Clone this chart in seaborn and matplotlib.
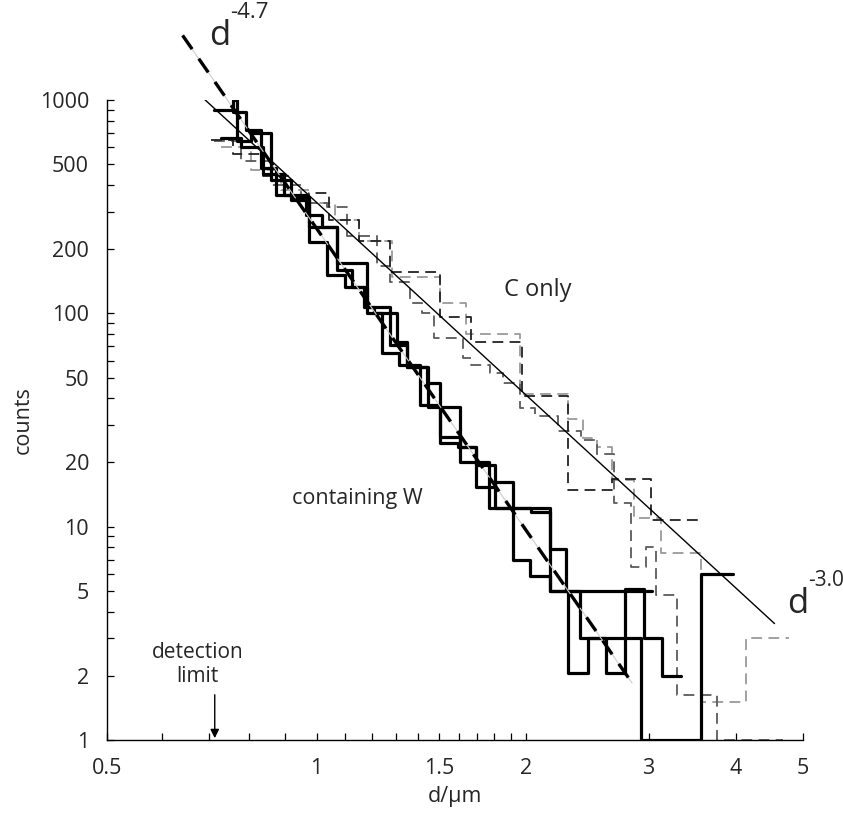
import numpy as np
import pandas as pd
import matplotlib
matplotlib.use("Agg")
import matplotlib.pyplot as plt
from matplotlib.ticker import FixedLocator, NullFormatter
import seaborn as sns

# ---------------- data ----------------
# solid step histograms ("containing W"): bin edges (um) and counts
w1_edges = [0.758, 0.792, 0.833, 0.875, 0.920, 0.974, 1.034, 1.098, 1.181, 1.242, 1.314, 1.409,
            1.502, 1.594, 1.693, 1.804, 1.915, 2.033, 2.166, 2.301, 2.451, 2.602, 2.773, 2.953,
            3.136, 3.342]
w1_counts = [880, 720, 480, 360, 340, 216, 151, 133, 100, 65, 57, 37, 24.7, 23.6, 15.4, 16.2,
             12.2, 11.7, 5.0, 2.06, 3.0, 2.06, 5.1, 3.0, 2.0]

w2_edges = [0.712, 0.758, 0.769, 0.805, 0.861, 0.920, 0.974, 1.069, 1.181, 1.275, 1.349, 1.443,
            1.502, 1.605, 1.768, 1.960, 2.166, 2.285, 2.394, 2.924, 3.571, 3.960]
w2_counts = [900, 1000, 640, 700, 420, 350, 254, 172, 107, 71, 56, 47, 26.3, 20, 12.2, 12.2,
             7.9, 5.0, 3.0, 1.0, 6.0]

w3_edges = [0.729, 0.779, 0.838, 0.899, 0.967, 1.017, 1.069, 1.124, 1.170, 1.209, 1.306, 1.349,
            1.448, 1.502, 1.605, 1.693, 1.804, 1.915, 2.027, 2.166, 3.033]
w3_counts = [660, 600, 450, 360, 290, 254, 159, 133, 107, 100, 73, 56, 36.5, 36.5, 23.6, 19.5,
             12.2, 7.0, 5.9, 5.0]

# dashed step histograms ("C only")
c1_edges = [0.705, 0.758, 0.838, 0.920, 0.974, 1.041, 1.150, 1.275, 1.502, 1.665, 1.974, 2.301,
            2.655, 3.023, 3.571]
c1_counts = [650, 560, 440, 340, 367, 274, 219, 157, 96, 73, 41, 14.8, 16.7, 10.7]

c2_edges = [0.712, 0.779, 0.861, 0.951, 1.034, 1.105, 1.221, 1.275, 1.363, 1.419, 1.477, 1.621,
            1.665, 1.774, 1.852, 1.960, 2.061, 2.225, 2.402, 2.525, 2.673, 2.829, 2.973, 3.073,
            3.297, 3.767, 4.013, 4.677]
c2_counts = [640, 520, 400, 330, 315, 230, 166, 140, 112, 100, 77, 62, 57, 52.5, 47, 36, 33, 28,
             25.5, 22, 12.9, 6.5, 8.0, 4.8, 1.62, 1.0, 1.0]

c3_edges = [0.729, 0.805, 0.890, 0.974, 1.062, 1.150, 1.284, 1.502, 1.637, 1.960, 2.301, 2.418,
            2.525, 2.655, 2.857, 3.125, 3.571, 4.135, 4.772]
c3_counts = [600, 470, 380, 330, 274, 219, 148, 112, 80, 42, 32, 26, 23.6, 16.6, 11, 7.5, 1.5, 3.0]

# power-law fits: counts = A * d**k
fit_w = dict(A=250.0, k=-4.7, d0=0.642, d1=2.84)
fit_c = dict(A=331.0, k=-3.0, d0=0.69, d1=4.55)

x_major = [0.5, 1, 1.5, 2, 3, 4, 5]
x_minor = [0.6, 0.7, 0.8, 0.9, 1.1, 1.2, 1.3, 1.4, 1.6, 1.7, 1.8, 1.9]
y_major = [1, 2, 5, 10, 20, 50, 100, 200, 500, 1000]
detection_limit = 0.714

# ---------------- style ----------------
sns.set_theme(style="ticks")
plt.rcParams['font.family'] = ['Open Sans', 'DejaVu Sans']

fig = plt.figure(figsize=(8.43, 8.16), dpi=100)
ax = fig.add_axes([0.127, 0.0931, 0.8256, 0.7844])
ax.set_xscale('log')
ax.set_yscale('log')


def step_df(edges, counts):
    return pd.DataFrame({'d': edges, 'n': list(counts) + [counts[-1]]})


dashed_specs = [(c3_edges, c3_counts, '#9a9a9a'),
                (c2_edges, c2_counts, '#5a5a5a'),
                (c1_edges, c1_counts, '#222222')]
for e, c, col in dashed_specs:
    sns.lineplot(data=step_df(e, c), x='d', y='n', ax=ax, estimator=None, sort=False,
                 drawstyle='steps-post', color=col, linewidth=1.3, linestyle=(0, (6, 3.5)))

for e, c in [(w3_edges, w3_counts), (w2_edges, w2_counts), (w1_edges, w1_counts)]:
    sns.lineplot(data=step_df(e, c), x='d', y='n', ax=ax, estimator=None, sort=False,
                 drawstyle='steps-post', color='black', linewidth=2.3)

# fits
dd = np.geomspace(fit_c['d0'], fit_c['d1'], 50)
sns.lineplot(x=dd, y=fit_c['A'] * dd ** fit_c['k'], ax=ax, color='black', linewidth=1.0,
             estimator=None, sort=False)
dw = np.geomspace(fit_w['d0'], fit_w['d1'], 50)
ax.plot(dw, fit_w['A'] * dw ** fit_w['k'], color='#cccccc', linewidth=0.8, clip_on=False)
ax.plot(dw, fit_w['A'] * dw ** fit_w['k'], color='black', linewidth=2.4,
        linestyle=(0, (5, 3.5)), clip_on=False)

# axes
ax.set_xlim(0.5, 5.0)
ax.set_ylim(1, 1000)
sns.despine(ax=ax)
ax.xaxis.set_major_locator(FixedLocator(x_major))
ax.xaxis.set_minor_locator(FixedLocator(x_minor))
ax.set_xticklabels([str(v) for v in x_major])
ax.xaxis.set_minor_formatter(NullFormatter())
ax.yaxis.set_major_locator(FixedLocator(y_major))
ax.set_yticklabels([str(v) for v in y_major])
ax.yaxis.set_minor_locator(FixedLocator([m * 10 ** p for p in range(0, 3) for m in (3, 4, 6, 7, 8, 9)]))
ax.yaxis.set_minor_formatter(NullFormatter())
ax.tick_params(which='both', direction='in', length=5, width=0.9, color='black')
ax.tick_params(which='major', labelsize=15.5, pad=13)
for sp in ('left', 'bottom'):
    ax.spines[sp].set_linewidth(1.0)
    ax.spines[sp].set_color('black')
ax.set_xlabel('d/\u03bcm', fontsize=15.5, labelpad=5)
ax.set_ylabel('counts', fontsize=15.5, labelpad=4)

# annotations
ax.text(2.08, 128, 'C only', fontsize=17, ha='center', va='center')
ax.text(1.143, 13.6, 'containing W', fontsize=15.5, ha='center', va='center')
ax.text(0.726, 1995, 'd', fontsize=25, ha='center', va='center', clip_on=False)
ax.text(0.751, 2560, '-4.7', fontsize=16, ha='left', va='center', clip_on=False)
ax.text(4.92, 4.34, 'd', fontsize=25, ha='center', va='center', clip_on=False)
ax.text(5.08, 5.6, '-3.0', fontsize=15, ha='left', va='center', clip_on=False)
ax.text(0.675, 2.25, 'detection\nlimit', fontsize=15, ha='center', va='center',
        linespacing=1.2)
ax.annotate('', xy=(detection_limit, 1.02), xytext=(detection_limit, 1.63),
            arrowprops=dict(arrowstyle='-|>', color='black', lw=1.0, mutation_scale=13,
                            shrinkA=0, shrinkB=0))

fig.savefig('out.png', dpi=100)
